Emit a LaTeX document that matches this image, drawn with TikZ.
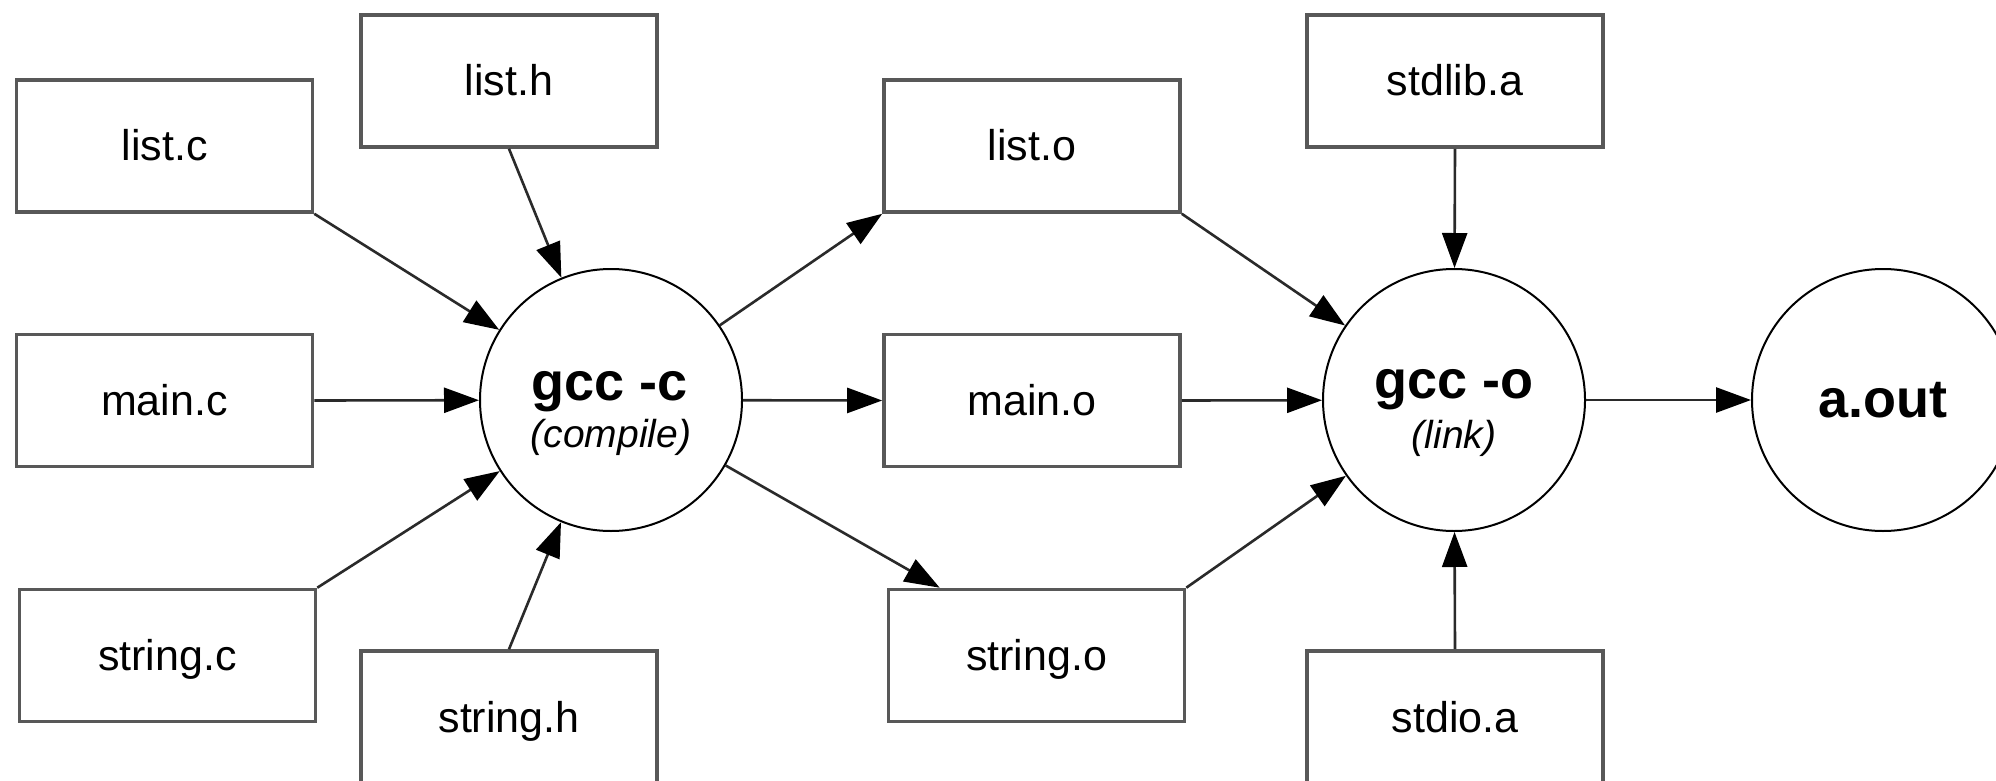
\documentclass[tikz,border=0pt]{standalone}
\usepackage{fontspec}
\setmainfont{Liberation Sans}
\usetikzlibrary{arrows.meta}
\definecolor{boxgray}{HTML}{585858}
\definecolor{linegray}{HTML}{2A2A2A}
\begin{document}
\begin{tikzpicture}[x=0.5pt,y=-0.5pt,
  filebox/.style={draw=boxgray,line width=1.8pt,minimum width=148pt,minimum height=66pt,inner sep=0pt,
    font=\fontsize{21.5}{24}\selectfont,text height=16pt,text depth=1pt},
  proc/.style={draw=black,line width=1pt,circle,minimum size=131pt,inner sep=0pt},
  ptitle/.style={anchor=base,inner sep=0pt,font=\fontsize{27}{30}\selectfont\bfseries},
  psub/.style={anchor=base,inner sep=0pt,font=\fontsize{19.5}{22}\selectfont\itshape},
  arr/.style={draw=linegray,line width=1.3pt,-{Triangle[length=17.5pt,width=12.5pt,color=black,fill=black]}}]
\clip (0,0) rectangle (1996,781);
\fill[white] (0,0) rectangle (1996,781);
% files
\node[filebox] (listc) at (164.5,146) {list.c};
\node[filebox] (mainc) at (164.5,400.5) {main.c};
\node[filebox] (stringc) at (167.5,655.5) {string.c};
\node[filebox] (listh) at (509,81) {list.h};
\node[filebox] (stringh) at (509,717) {string.h};
\node[filebox] (listo) at (1032,146) {list.o};
\node[filebox] (maino) at (1032,400.5) {main.o};
\node[filebox] (stringo) at (1036.5,655.5) {string.o};
\node[filebox] (stdlib) at (1455,81) {stdlib.a};
\node[filebox] (stdio) at (1455,717) {stdio.a};
% processes
\node[proc] (gccc) at (611,400) {};
\node[ptitle] (gccct) at (610,400) {gcc -c};
\node[psub] (gcccs) at (611,447) {(compile)};
\node[proc] (gcco) at (1454,400) {};
\node[ptitle] (gccot) at (1454,398) {gcc -o};
\node[psub] (gccos) at (1454,448) {(link)};
\node[proc,font=\fontsize{27}{30}\selectfont\bfseries] (aout) at (1883,400) {a.out};
% compile inputs
\draw[arr] (listc.south east) -- (gccc);
\draw[arr] (listh.south) -- (gccc);
\draw[arr] (mainc.east) -- (gccc);
\draw[arr] (stringc.north east) -- (gccc);
\draw[arr] (stringh.north) -- (gccc);
% compile outputs
\coordinate (stringoin) at ([xshift=26.5pt]stringo.north west);
\draw[arr] (gccc) -- (listo.south west);
\draw[arr] (gccc) -- (maino.west);
\draw[arr] (gccc) -- (stringoin);
% link inputs
\draw[arr] (listo.south east) -- (gcco);
\draw[arr] (maino.east) -- (gcco);
\draw[arr] (stringo.north east) -- (gcco);
\draw[arr] (stdlib.south) -- (gcco);
\draw[arr] (stdio.north) -- (gcco);
% output
\draw[arr] (gcco) -- (aout);
\end{tikzpicture}
\end{document}
